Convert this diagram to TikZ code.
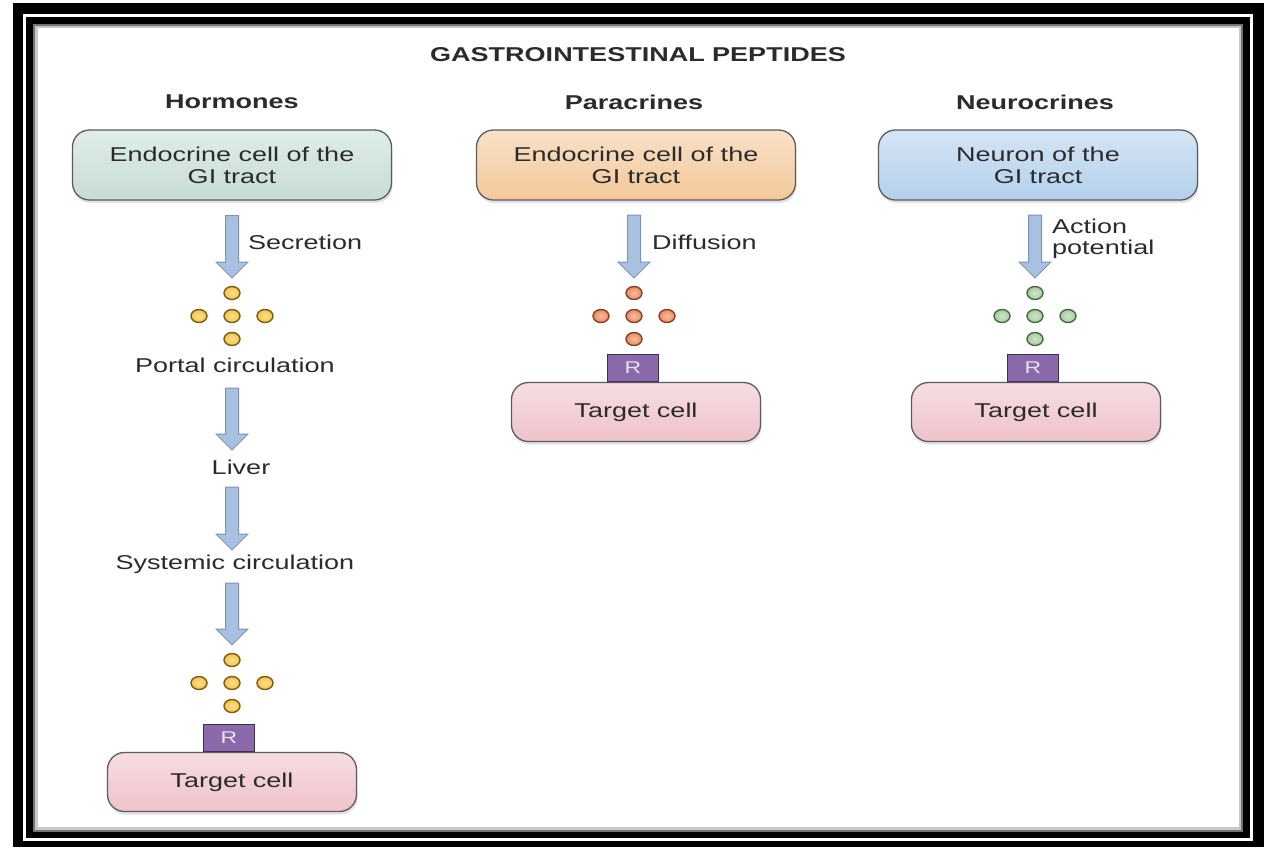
\documentclass[tikz,border=0pt]{standalone}
\usepackage{fontspec}
\setmainfont{Liberation Sans}[FakeStretch=1.35]
\usetikzlibrary{calc,positioning,shapes.geometric,shadows}

\definecolor{txt}{HTML}{2B2B2B}
\definecolor{edge}{HTML}{5C5C5C}
\definecolor{hormonebox}{HTML}{C6DDD4}
\definecolor{paracrinebox}{HTML}{F3C89A}
\definecolor{neuronbox}{HTML}{B3D0EC}
\definecolor{targetbox}{HTML}{EFC2CB}
\definecolor{rfill}{HTML}{8A6AAA}
\definecolor{redge}{HTML}{3E3050}
\definecolor{flowfill}{HTML}{A9C1E1}
\definecolor{flowedge}{HTML}{7E94B8}
\definecolor{yel}{HTML}{F4C443}
\definecolor{yeldk}{HTML}{7A5A14}
\definecolor{org}{HTML}{EC8A5C}
\definecolor{orgdk}{HTML}{844224}
\definecolor{grn}{HTML}{A7CDA0}
\definecolor{grndk}{HTML}{4A6846}

\tikzset{
  title/.style={font=\bfseries\fontsize{20}{24}\selectfont, text=txt},
  header/.style={font=\bfseries\fontsize{20}{24}\selectfont, text=txt},
  note/.style={font=\fontsize{20}{21}\selectfont, text=txt, align=left, inner sep=0pt},
  cellbox/.style={draw=edge, line width=1.3pt, rounded corners=17pt,
    minimum width=319pt, minimum height=70pt, align=center, text=txt,
    font=\fontsize{20}{22}\selectfont, top color=#1!55!white, bottom color=#1,
    drop shadow={shadow xshift=1pt, shadow yshift=-3pt, fill=black!22}},
  targetbox/.style={cellbox=targetbox, minimum width=249pt, minimum height=59pt},
  receptor/.style={draw=redge, line width=1pt, fill=rfill, text=white!80!rfill,
    minimum width=51pt, minimum height=27pt, inner sep=0pt,
    font=\fontsize{17}{17}\selectfont},
  granule/.style={ellipse, draw=#1dk, line width=1.4pt, inner color=#1!55!white,
    outer color=#1, minimum width=16pt, minimum height=13pt, inner sep=0pt},
  flow/.style={draw=flowedge, line width=1pt, fill=flowfill}
}

% block arrow pointing down, from start coordinate to tip coordinate
\newcommand{\gutflow}[2]{%
  \draw[flow] ($(#1)+(-6.5,0)$) -- ($(#2)+(-6.5,-16)$) -- ($(#2)+(-16,-16)$)
    -- (#2) -- ($(#2)+(16,-16)$) -- ($(#2)+(6.5,-16)$) -- ($(#1)+(6.5,0)$) -- cycle;}

\begin{document}
\begin{tikzpicture}[x=1pt,y=-1pt]
  \useasboundingbox (0,0) rectangle (1264,847);
  % double black frame
  \fill[white] (0,0) rectangle (1264,847);
  \fill[black] (13,3) rectangle (1264,847);
  \fill[white] (23,14) rectangle (1253,841);
  \fill[black] (26,17) rectangle (1250,838);
  \fill[black!55] (33,24) rectangle (1243,832);
  \fill[black!22] (35,26) rectangle (1241,830);
  \fill[white] (38,28) rectangle (1239,827);

  \node[title] (ttl) at (638,55) {GASTROINTESTINAL PEPTIDES};
  \foreach \cx/\hd in {232/Hormones, 634/Paracrines, 1035/Neurocrines}
    \node[header] (\hd) at (\cx,102) {\hd};

  \node[cellbox=hormonebox] (hcell) at (232,165) {Endocrine cell of the\\GI tract};
  \node[cellbox=paracrinebox] (pcell) at (636,165) {Endocrine cell of the\\GI tract};
  \node[cellbox=neuronbox] (ncell) at (1038,165) {Neuron of the\\GI tract};

  % granule clusters
  \foreach \cx/\cy/\col/\nm in {232/316/yel/ha, 232/683/yel/hb, 634/316/org/pa, 1035/316/grn/na} {
    \node[granule=\col] (\nm t) at (\cx,\cy-23) {};
    \node[granule=\col] (\nm l) at (\cx-33,\cy) {};
    \node[granule=\col] (\nm c) at (\cx,\cy) {};
    \node[granule=\col] (\nm r) at (\cx+33,\cy) {};
    \node[granule=\col] (\nm b) at (\cx,\cy+23) {};
  };

  % hormone pathway
  \coordinate (hs1) at ($(hcell.south)+(0,15)$);
  \coordinate (he1) at (232,278);
  \gutflow{hs1}{he1}
  \node[note, anchor=west] (secr) at (248,242) {Secretion};
  \node[note] (portal) at (235,365) {Portal circulation};
  \coordinate (hs2) at (232,388);
  \coordinate (he2) at (232,450);
  \gutflow{hs2}{he2}
  \node[note] (liver) at (241,467) {Liver};
  \coordinate (hs3) at (232,487);
  \coordinate (he3) at (232,550);
  \gutflow{hs3}{he3}
  \node[note] (system) at (235,564) {Systemic circulation};
  \coordinate (hs4) at (232,583);
  \coordinate (he4) at (232,645);
  \gutflow{hs4}{he4}

  % paracrine and neurocrine pathways
  \coordinate (ps1) at (634,215);
  \coordinate (pe1) at (634,278);
  \gutflow{ps1}{pe1}
  \node[note, anchor=west] (diff) at (652,242) {Diffusion};
  \coordinate (ns1) at (1035,215);
  \coordinate (ne1) at (1035,278);
  \gutflow{ns1}{ne1}
  \node[note, anchor=west] (actpot) at (1052,239) {Action\\potential};

  % target cells with receptors
  \foreach \cx/\cy/\nm in {232/782/htgt, 636/412/ptgt, 1036/412/ntgt} {
    \node[targetbox] (\nm) at (\cx,\cy) {Target cell};
    \node[receptor, above=0pt of \nm, xshift=-3pt] (\nm r) {R};
  };
\end{tikzpicture}
\end{document}
